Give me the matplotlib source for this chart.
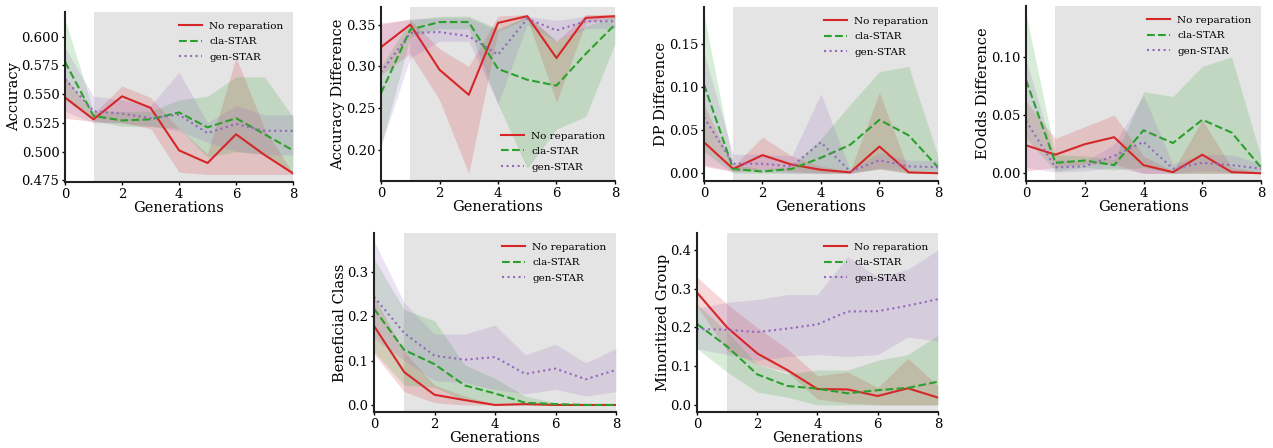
import numpy as np
import matplotlib
matplotlib.use('Agg')
import matplotlib.pyplot as plt

plt.rcParams['font.family'] = ['DejaVu Serif']

#_______________________________ DATOS ____________________________________
gens = [0, 1, 2, 3, 4, 5, 6, 7, 8]
series_names = ['No reparation', 'cla-STAR', 'gen-STAR']

# Accuracy
acc_red = [0.547, 0.528, 0.548, 0.538, 0.501, 0.490, 0.515, 0.497, 0.481]
acc_red_lo = [0.529, 0.526, 0.525, 0.520, 0.482, 0.480, 0.480, 0.480, 0.480]
acc_red_hi = [0.565, 0.533, 0.557, 0.547, 0.520, 0.498, 0.582, 0.520, 0.481]
acc_green = [0.578, 0.531, 0.527, 0.528, 0.534, 0.521, 0.529, 0.515, 0.501]
acc_green_lo = [0.545, 0.527, 0.522, 0.522, 0.520, 0.495, 0.500, 0.498, 0.480]
acc_green_hi = [0.615, 0.535, 0.535, 0.535, 0.545, 0.548, 0.565, 0.565, 0.530]
acc_purple = [0.563, 0.535, 0.533, 0.529, 0.532, 0.516, 0.524, 0.518, 0.518]
acc_purple_lo = [0.535, 0.525, 0.525, 0.522, 0.518, 0.508, 0.500, 0.497, 0.497]
acc_purple_hi = [0.590, 0.548, 0.545, 0.540, 0.569, 0.525, 0.540, 0.532, 0.532]

# Accuracy Difference
ad_red = [0.323, 0.350, 0.296, 0.266, 0.352, 0.360, 0.310, 0.358, 0.360]
ad_red_lo = [0.290, 0.315, 0.260, 0.172, 0.342, 0.357, 0.257, 0.352, 0.358]
ad_red_hi = [0.352, 0.356, 0.321, 0.300, 0.360, 0.362, 0.330, 0.362, 0.362]
ad_green = [0.268, 0.344, 0.353, 0.353, 0.297, 0.284, 0.277, 0.315, 0.350]
ad_green_lo = [0.205, 0.335, 0.345, 0.345, 0.255, 0.178, 0.225, 0.240, 0.327]
ad_green_hi = [0.300, 0.355, 0.360, 0.360, 0.345, 0.360, 0.330, 0.348, 0.360]
ad_purple = [0.293, 0.340, 0.341, 0.336, 0.314, 0.357, 0.343, 0.354, 0.354]
ad_purple_lo = [0.205, 0.310, 0.330, 0.330, 0.255, 0.350, 0.330, 0.345, 0.345]
ad_purple_hi = [0.350, 0.357, 0.358, 0.358, 0.343, 0.360, 0.355, 0.360, 0.360]

# DP Difference
dp_red = [0.036, 0.005, 0.021, 0.010, 0.004, 0.001, 0.031, 0.001, 0.000]
dp_red_lo = [0.008, 0.002, 0.005, 0.002, 0.000, 0.000, 0.005, 0.000, 0.000]
dp_red_hi = [0.080, 0.008, 0.042, 0.020, 0.008, 0.003, 0.094, 0.003, 0.001]
dp_green = [0.103, 0.005, 0.002, 0.005, 0.018, 0.033, 0.062, 0.044, 0.007]
dp_green_lo = [0.025, 0.000, 0.000, 0.000, 0.000, 0.000, 0.005, 0.000, 0.000]
dp_green_hi = [0.185, 0.010, 0.005, 0.008, 0.040, 0.080, 0.118, 0.124, 0.020]
dp_purple = [0.065, 0.011, 0.011, 0.008, 0.036, 0.002, 0.015, 0.008, 0.007]
dp_purple_lo = [0.010, 0.002, 0.002, 0.000, 0.000, 0.000, 0.006, 0.003, 0.002]
dp_purple_hi = [0.140, 0.022, 0.022, 0.020, 0.092, 0.004, 0.024, 0.015, 0.015]

# EOdds Difference
eo_red = [0.024, 0.016, 0.025, 0.031, 0.007, 0.001, 0.016, 0.001, 0.000]
eo_red_lo = [0.002, 0.005, 0.008, 0.008, 0.000, 0.000, 0.000, 0.000, 0.000]
eo_red_hi = [0.062, 0.030, 0.040, 0.050, 0.015, 0.002, 0.046, 0.005, 0.001]
eo_green = [0.080, 0.009, 0.011, 0.007, 0.037, 0.026, 0.046, 0.035, 0.005]
eo_green_lo = [0.030, 0.002, 0.005, 0.003, 0.005, 0.000, 0.000, 0.000, 0.000]
eo_green_hi = [0.137, 0.016, 0.015, 0.012, 0.070, 0.066, 0.092, 0.100, 0.014]
eo_purple = [0.045, 0.005, 0.006, 0.015, 0.027, 0.004, 0.009, 0.007, 0.004]
eo_purple_lo = [0.005, 0.001, 0.002, 0.005, 0.000, 0.000, 0.002, 0.001, 0.001]
eo_purple_hi = [0.098, 0.012, 0.010, 0.025, 0.067, 0.008, 0.016, 0.016, 0.008]

# Beneficial Class
bc_red = [0.178, 0.074, 0.023, 0.011, 0.000, 0.002, 0.000, 0.000, 0.000]
bc_red_lo = [0.115, 0.030, 0.005, 0.000, 0.000, 0.000, 0.000, 0.000, 0.000]
bc_red_hi = [0.245, 0.120, 0.045, 0.020, 0.002, 0.004, 0.001, 0.000, 0.000]
bc_green = [0.217, 0.124, 0.092, 0.044, 0.026, 0.005, 0.002, 0.000, 0.000]
bc_green_lo = [0.120, 0.045, 0.040, 0.010, 0.002, 0.000, 0.000, 0.000, 0.000]
bc_green_hi = [0.330, 0.215, 0.190, 0.090, 0.060, 0.020, 0.005, 0.000, 0.000]
bc_purple = [0.244, 0.162, 0.111, 0.102, 0.108, 0.070, 0.082, 0.058, 0.079]
bc_purple_lo = [0.150, 0.100, 0.055, 0.050, 0.035, 0.025, 0.035, 0.020, 0.030]
bc_purple_hi = [0.370, 0.230, 0.160, 0.160, 0.180, 0.113, 0.137, 0.095, 0.127]

# Minoritized Group
mg_red = [0.290, 0.200, 0.133, 0.090, 0.041, 0.040, 0.023, 0.043, 0.019]
mg_red_lo = [0.255, 0.140, 0.105, 0.085, 0.015, 0.005, 0.000, 0.000, 0.000]
mg_red_hi = [0.330, 0.260, 0.200, 0.145, 0.075, 0.085, 0.045, 0.120, 0.050]
mg_green = [0.209, 0.151, 0.079, 0.049, 0.042, 0.030, 0.038, 0.044, 0.060]
mg_green_lo = [0.145, 0.085, 0.033, 0.020, 0.000, 0.000, 0.000, 0.000, 0.000]
mg_green_hi = [0.260, 0.190, 0.105, 0.080, 0.090, 0.090, 0.115, 0.130, 0.180]
mg_purple = [0.196, 0.194, 0.188, 0.197, 0.208, 0.241, 0.242, 0.256, 0.273]
mg_purple_lo = [0.145, 0.130, 0.115, 0.125, 0.130, 0.125, 0.130, 0.175, 0.165]
mg_purple_hi = [0.250, 0.265, 0.272, 0.285, 0.285, 0.383, 0.330, 0.350, 0.400]

#_______________________________ ESTILO ____________________________________
colores = ['#d62728', '#2ca02c', '#9467bd']
estilos = ['-', '--', ':']

# posiciones de cada panel [izq, abajo, ancho, alto] en fraccion de figura
paneles = [
    ('Accuracy', [0.0511, 0.5938, 0.1791, 0.3795], (0.4735, 0.6214), [0.475, 0.5, 0.525, 0.55, 0.575, 0.6], '%.3f', 'upper right',
     [(acc_red, acc_red_lo, acc_red_hi), (acc_green, acc_green_lo, acc_green_hi), (acc_purple, acc_purple_lo, acc_purple_hi)]),
    ('Accuracy Difference', [0.2993, 0.5960, 0.1838, 0.3884], (0.163, 0.371), [0.2, 0.25, 0.3, 0.35], '%.2f', 'lower right',
     [(ad_red, ad_red_lo, ad_red_hi), (ad_green, ad_green_lo, ad_green_hi), (ad_purple, ad_purple_lo, ad_purple_hi)]),
    ('DP Difference', [0.5530, 0.5960, 0.1838, 0.3884], (-0.009, 0.193), [0.0, 0.05, 0.1, 0.15], '%.2f', 'upper right',
     [(dp_red, dp_red_lo, dp_red_hi), (dp_green, dp_green_lo, dp_green_hi), (dp_purple, dp_purple_lo, dp_purple_hi)]),
    ('EOdds Difference', [0.8060, 0.5960, 0.1846, 0.3906], (-0.0066, 0.1437), [0.0, 0.05, 0.1], '%.2f', 'upper right',
     [(eo_red, eo_red_lo, eo_red_hi), (eo_green, eo_green_lo, eo_green_hi), (eo_purple, eo_purple_lo, eo_purple_hi)]),
    ('Beneficial Class', [0.2938, 0.0797, 0.1901, 0.3996], (-0.0165, 0.387), [0.0, 0.1, 0.2, 0.3], '%.1f', 'upper right',
     [(bc_red, bc_red_lo, bc_red_hi), (bc_green, bc_green_lo, bc_green_hi), (bc_purple, bc_purple_lo, bc_purple_hi)]),
    ('Minoritized Group', [0.5475, 0.0797, 0.1893, 0.3996], (-0.019, 0.443), [0.0, 0.1, 0.2, 0.3, 0.4], '%.1f', 'upper right',
     [(mg_red, mg_red_lo, mg_red_hi), (mg_green, mg_green_lo, mg_green_hi), (mg_purple, mg_purple_lo, mg_purple_hi)]),
]

#_______________________________ GRAFICO ____________________________________
fig = plt.figure(figsize=(12.73, 4.48), dpi=100)

for ylabel, pos, ylim, yticks, fmt, loc, datos in paneles:
    ax = fig.add_axes(pos)
    ax.axvspan(1, 8, color='lightgray', alpha=0.6, lw=0, zorder=0)
    for (media, lo, hi), c, ls, nombre in zip(datos, colores, estilos, series_names):
        ax.fill_between(gens, lo, hi, color=c, alpha=0.18, lw=0, zorder=1)
        ax.plot(gens, media, color=c, ls=ls, lw=1.5, label=nombre, zorder=2)

    ax.set_xlim(0, 8)
    ax.set_ylim(*ylim)
    ax.set_xticks([0, 2, 4, 6, 8])
    ax.set_yticks(yticks)
    ax.yaxis.set_major_formatter(matplotlib.ticker.FormatStrFormatter(fmt))
    ax.set_xlabel('Generations', fontsize=10.5, labelpad=0)
    ax.set_ylabel(ylabel, fontsize=10.5, labelpad=0.5)
    ax.tick_params(labelsize=9.5, direction='out', length=2.5, width=1, pad=1.5)
    for s in ['top', 'right']:
        ax.spines[s].set_visible(False)
    for s in ['left', 'bottom']:
        ax.spines[s].set_linewidth(1.5)
        ax.spines[s].set_color('#222222')
    ax.legend(loc=loc, frameon=False, fontsize=7.5, handlelength=2.2,
              handletextpad=0.7, labelspacing=0.6)

plt.savefig('out.png', dpi=100)
